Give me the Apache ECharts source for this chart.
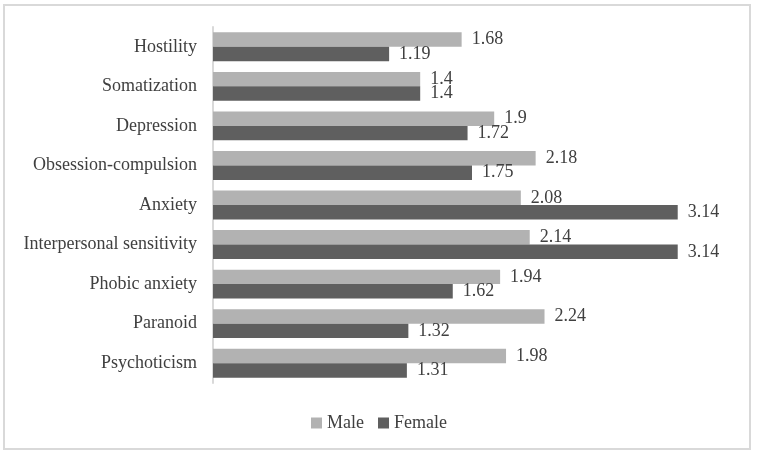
<!DOCTYPE html>
<html>
<head>
<meta charset="utf-8">
<script src="https://cdn.jsdelivr.net/npm/echarts@6/dist/echarts.min.js"></script>
<style>
html,body{margin:0;padding:0;background:#fff;}
#frame{position:absolute;left:3px;top:4px;width:748px;height:446px;border:2px solid #d9d9d9;box-sizing:border-box;}
#chart{position:absolute;left:0;top:0;width:758px;height:458px;}
</style>
</head>
<body>
<div id="frame"></div>
<div id="chart"></div>
<script>
const categories = ["Hostility","Somatization","Depression","Obsession-compulsion","Anxiety","Interpersonal sensitivity","Phobic anxiety","Paranoid","Psychoticism"];
const maleValues = [1.68,1.4,1.9,2.18,2.08,2.14,1.94,2.24,1.98];
const femaleValues = [1.19,1.4,1.72,1.75,3.14,3.14,1.62,1.32,1.31];
const seriesNames = ["Male","Female"];

const font = "'Liberation Serif', 'Times New Roman', serif";
const fs = 18;
const chart = echarts.init(document.getElementById('chart'), null, {renderer:'canvas'});
chart.setOption({
  animation:false,
  backgroundColor:'transparent',
  textStyle:{fontFamily:font},
  grid:{left:213, top:27, width:518, height:356, containLabel:false},
  legend:{
    top:409, left:'center',
    itemWidth:11, itemHeight:11, itemGap:14,
    icon:'rect',
    textStyle:{fontFamily:font, fontSize:fs, color:'#404040'},
    data:seriesNames
  },
  xAxis:{type:'value', min:0, max:3.5, show:false},
  yAxis:{
    type:'category', data:categories, inverse:true,
    axisLine:{lineStyle:{color:'#d9d9d9', width:2}},
    axisTick:{show:false},
    axisLabel:{fontFamily:font, fontSize:fs, color:'#404040', margin:16}
  },
  series:[
    {name:seriesNames[0], type:'bar', data:maleValues, barGap:'0%', barCategoryGap:'27%',
     itemStyle:{color:'#b2b2b2'},
     label:{show:true, position:'right', distance:10, fontFamily:font, fontSize:fs, color:'#404040'}},
    {name:seriesNames[1], type:'bar', data:femaleValues, barGap:'0%', barCategoryGap:'27%',
     itemStyle:{color:'#5f5f5f'},
     label:{show:true, position:'right', distance:10, fontFamily:font, fontSize:fs, color:'#404040'}}
  ]
});
</script>
</body>
</html>
